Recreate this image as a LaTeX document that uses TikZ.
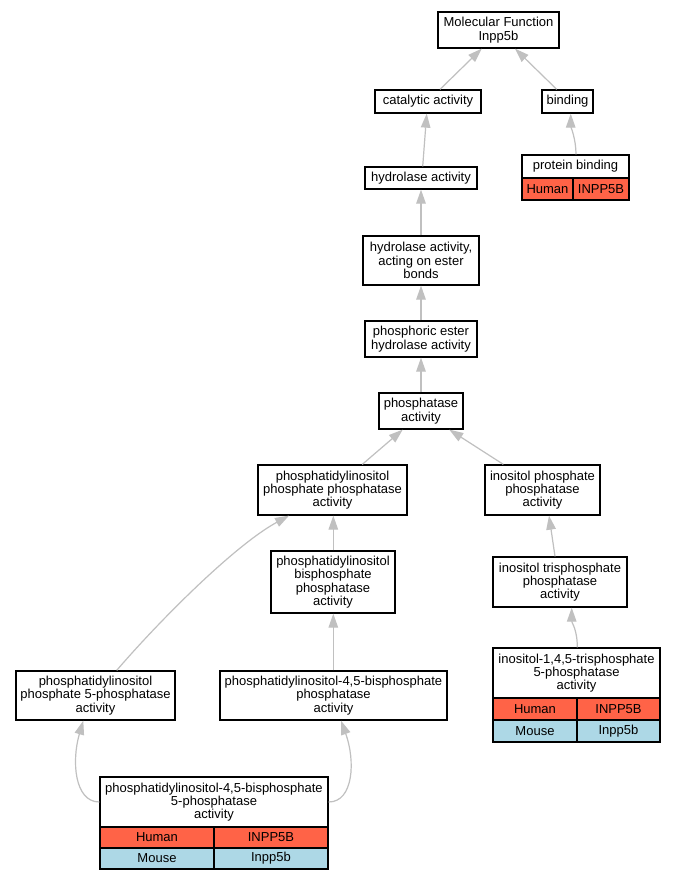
\documentclass[tikz,border=0pt]{standalone}
\usepackage{fontspec}
\setmainfont{Liberation Sans}
\usetikzlibrary{arrows.meta,calc}
\definecolor{humanred}{HTML}{FF6347}
\definecolor{mouseblue}{HTML}{ADD8E6}
\definecolor{edgegray}{HTML}{C0C0C0}
\begin{document}
\begin{tikzpicture}[x=1pt,y=-1pt,
  term/.style={draw=black, line width=1.3pt, fill=white, inner sep=0pt, align=center,
    font=\fontsize{13}{13.3}\selectfont},
  hcell/.style={term, fill=humanred},
  mcell/.style={term, fill=mouseblue},
  isa/.style={draw=edgegray, line width=1.2pt, -{Triangle[length=14pt,width=9.5pt]}}]
\useasboundingbox[fill=white] (0,0) rectangle (676,880);

% nodes
\node[term, minimum width=121pt, minimum height=36pt] (mf) at (498.5,30) {Molecular Function\\Inpp5b};
\node[term, minimum width=106pt, minimum height=23pt] (cat) at (428,101.5) {catalytic activity};
\node[term, minimum width=51pt, minimum height=23pt] (bind) at (567.5,101.5) {binding};
\node[term, minimum width=107pt, minimum height=23pt] (pb) at (575.5,166.5) {protein binding};
\node[hcell, minimum width=51pt, minimum height=22pt] (pbh) at (547.5,189) {Human};
\node[hcell, minimum width=56pt, minimum height=22pt] (pbg) at (601,189) {INPP5B};
\node[term, minimum width=112pt, minimum height=22pt] (hyd) at (421,178) {hydrolase activity};
\node[term, minimum width=116pt, minimum height=49pt] (hest) at (421,260.5) {hydrolase activity,\\acting on ester\\bonds};
\node[term, minimum width=112pt, minimum height=36pt] (phos) at (421,339) {phosphoric ester\\hydrolase activity};
\node[term, minimum width=84pt, minimum height=36pt] (ptase) at (421,411) {phosphatase\\activity};
\node[term, minimum width=149pt, minimum height=50pt] (pipp) at (332.5,490) {phosphatidylinositol\\phosphate phosphatase\\activity};
\node[term, minimum width=115pt, minimum height=50pt] (ipp) at (542.5,490) {inositol phosphate\\phosphatase\\activity};
\node[term, minimum width=124pt, minimum height=62pt] (pibis) at (333,582) {phosphatidylinositol\\bisphosphate\\phosphatase\\activity};
\node[term, minimum width=134pt, minimum height=50pt] (ip3p) at (560,582) {inositol trisphosphate\\phosphatase\\activity};
\node[term, minimum width=159pt, minimum height=49pt] (pi5p) at (95.5,695.5) {phosphatidylinositol\\phosphate 5-phosphatase\\activity};
\node[term, minimum width=227pt, minimum height=49pt] (pi45p) at (333.5,695.5) {phosphatidylinositol-4,5-bisphosphate\\phosphatase\\activity};
\node[term, minimum width=167pt, minimum height=50pt] (ip35) at (576.5,673) {inositol-1,4,5-trisphosphate\\5-phosphatase\\activity};
\node[hcell, minimum width=84pt, minimum height=22pt] (ip35h) at (535,709) {Human};
\node[hcell, minimum width=83pt, minimum height=22pt] (ip35g) at (618.5,709) {INPP5B};
\node[mcell, minimum width=84pt, minimum height=22pt] (ip35m) at (535,731) {Mouse};
\node[mcell, minimum width=83pt, minimum height=22pt] (ip35mg) at (618.5,731) {Inpp5b};
\node[term, minimum width=228pt, minimum height=50pt] (pi455) at (214,802) {phosphatidylinositol-4,5-bisphosphate\\5-phosphatase\\activity};
\node[hcell, minimum width=114pt, minimum height=21pt] (pi455h) at (157,837.5) {Human};
\node[hcell, minimum width=114pt, minimum height=21pt] (pi455g) at (271,837.5) {INPP5B};
\node[mcell, minimum width=114pt, minimum height=21pt] (pi455m) at (157,858.5) {Mouse};
\node[mcell, minimum width=114pt, minimum height=21pt] (pi455mg) at (271,858.5) {Inpp5b};

% edges
\draw[isa] ($(cat.north)+(12,0)$) -- ($(mf.south)+(-16.8,0)$);
\draw[isa] ($(bind.north)+(-10.8,0)$) -- ($(mf.south)+(16.5,0)$);
\draw[isa] ($(pb.north)+(0.5,0)$) .. controls ($(pb.north)+(0.5,-15)$) and ($(bind.south)+(3.2,12)$) .. ($(bind.south)+(3.2,0)$);
\draw[isa] ($(hyd.north)+(1.7,0)$) -- ($(cat.south)+(-1.3,0)$);
\draw[isa] (hest.north) -- (hyd.south);
\draw[isa] (phos.north) -- (hest.south);
\draw[isa] (ptase.north) -- (phos.south);
\draw[isa] ($(pipp.north)+(29.8,0)$) -- ($(ptase.south)+(-18.3,0)$);
\draw[isa] ($(ipp.north)+(-39.2,0)$) -- ($(ptase.south)+(28.3,0)$);
\draw[isa] ($(pibis.north)+(0.3,0)$) -- ($(pipp.south)+(0.8,0)$);
\draw[isa] ($(ip3p.north)+(-5,0)$) -- ($(ipp.south)+(6.5,0)$);
\draw[isa] ($(ip35.north)+(0.8,0)$) .. controls ($(ip35.north)+(0.8,-18)$) and ($(ip3p.south)+(11.7,15)$) .. ($(ip3p.south)+(11.7,0)$);
\draw[isa] ($(pi5p.north)+(21.2,0)$) .. controls (160,620) and (235,545) .. ($(pipp.south)+(-43.5,0)$);
\draw[isa] ($(pi45p.north)+(-0.2,0)$) -- ($(pibis.south)+(0.3,0)$);
\draw[isa] (pi455.west) .. controls ($(pi455.west)+(-25,0)$) and ($(pi5p.south)+(-24,40)$) .. ($(pi5p.south)+(-12.2,0)$);
\draw[isa] (pi455.east) .. controls ($(pi455.east)+(25,0)$) and ($(pi45p.south)+(22,40)$) .. ($(pi45p.south)+(7.5,0)$);
\end{tikzpicture}
\end{document}
